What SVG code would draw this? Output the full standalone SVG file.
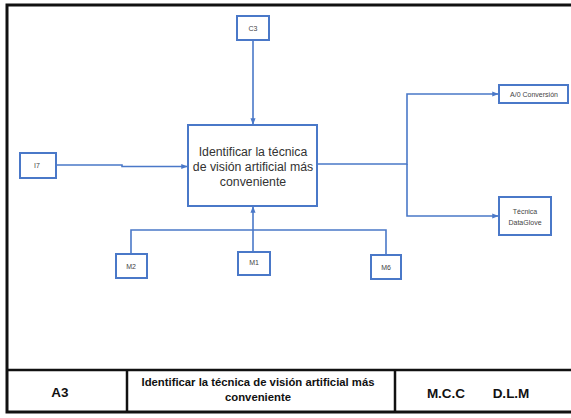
<svg xmlns="http://www.w3.org/2000/svg" width="571" height="418" viewBox="0 0 571 418">
  <style>
    .frame { fill: none; stroke: #111; stroke-width: 3; }
    .rule { stroke: #111; stroke-width: 2.5; fill: none; }
    .box { fill: #fff; stroke: #4A78C8; stroke-width: 2; }
    .link { fill: none; stroke: #4A78C8; stroke-width: 1.6; }
    .lbl { font-family: "Liberation Sans", Arial, sans-serif; font-size: 7px; fill: #444; text-anchor: middle; }
    .main { font-family: "Liberation Sans", Arial, sans-serif; font-size: 12.3px; fill: #333; text-anchor: middle; }
    .tb { font-family: "Liberation Sans", Arial, sans-serif; font-weight: bold; fill: #111; text-anchor: middle; }
  </style>
  <defs>
    <marker id="arrow" viewBox="0 0 10 10" refX="9" refY="5" markerWidth="4" markerHeight="4" orient="auto" markerUnits="strokeWidth">
      <path d="M0,1 L10,5 L0,9 z" fill="#4A78C8"/>
    </marker>
  </defs>

  <rect width="571" height="418" fill="#fff"/>

  <!-- sheet frame and title block -->
  <g id="frame">
    <rect class="frame" x="7" y="5" width="580" height="407"/>
    <line class="rule" x1="7" y1="370" x2="571" y2="370"/>
    <line class="rule" x1="127" y1="370" x2="127" y2="412"/>
    <line class="rule" x1="395" y1="370" x2="395" y2="412"/>
    <text class="tb" x="60" y="397" font-size="13.5">A3</text>
    <text class="tb" x="258" y="386" font-size="11.3">Identificar la técnica de visión artificial más</text>
    <text class="tb" x="258" y="401" font-size="11.3">conveniente</text>
    <text class="tb" x="446" y="398" font-size="13.5">M.C.C</text>
    <text class="tb" x="511" y="398" font-size="13.5">D.L.M</text>
  </g>

  <!-- connectors -->
  <g id="connectors">
    <path class="link" d="M253,40 V124" marker-end="url(#arrow)"/>
    <path class="link" d="M56,165 H122 V166.5 H187" marker-end="url(#arrow)"/>
    <path class="link" d="M317,164 H407 V94 H498" marker-end="url(#arrow)"/>
    <path class="link" d="M407,164 V216 H498" marker-end="url(#arrow)"/>
    <path class="link" d="M253,252 V207" marker-end="url(#arrow)"/>
    <path class="link" d="M131,254 V230 H386 V255"/>
  </g>

  <g id="main">
    <rect class="box" x="188" y="125" width="129" height="81"/>
    <text class="main" x="253" y="156">Identificar la técnica</text>
    <text class="main" x="253" y="171">de visión artificial más</text>
    <text class="main" x="253" y="186">conveniente</text>
  </g>

  <g id="C3">
    <rect class="box" x="237" y="16" width="32" height="24"/>
    <text class="lbl" x="253" y="30.5">C3</text>
  </g>

  <g id="I7">
    <rect class="box" x="20" y="153" width="36" height="25"/>
    <text class="lbl" x="37" y="168">I7</text>
  </g>

  <g id="A0">
    <rect class="box" x="499" y="85" width="69" height="18"/>
    <text class="lbl" x="534" y="96.5">A/0 Conversión</text>
  </g>

  <g id="DataGlove">
    <rect class="box" x="499" y="197" width="52" height="38"/>
    <text class="lbl" x="525" y="214">Técnica</text>
    <text class="lbl" x="525" y="225">DataGlove</text>
  </g>

  <g id="M2">
    <rect class="box" x="116" y="254" width="31" height="24"/>
    <text class="lbl" x="131" y="268.5">M2</text>
  </g>

  <g id="M1">
    <rect class="box" x="238" y="252" width="32" height="23"/>
    <text class="lbl" x="254" y="265">M1</text>
  </g>

  <g id="M6">
    <rect class="box" x="371" y="255" width="30" height="24"/>
    <text class="lbl" x="386" y="269.5">M6</text>
  </g>
</svg>
